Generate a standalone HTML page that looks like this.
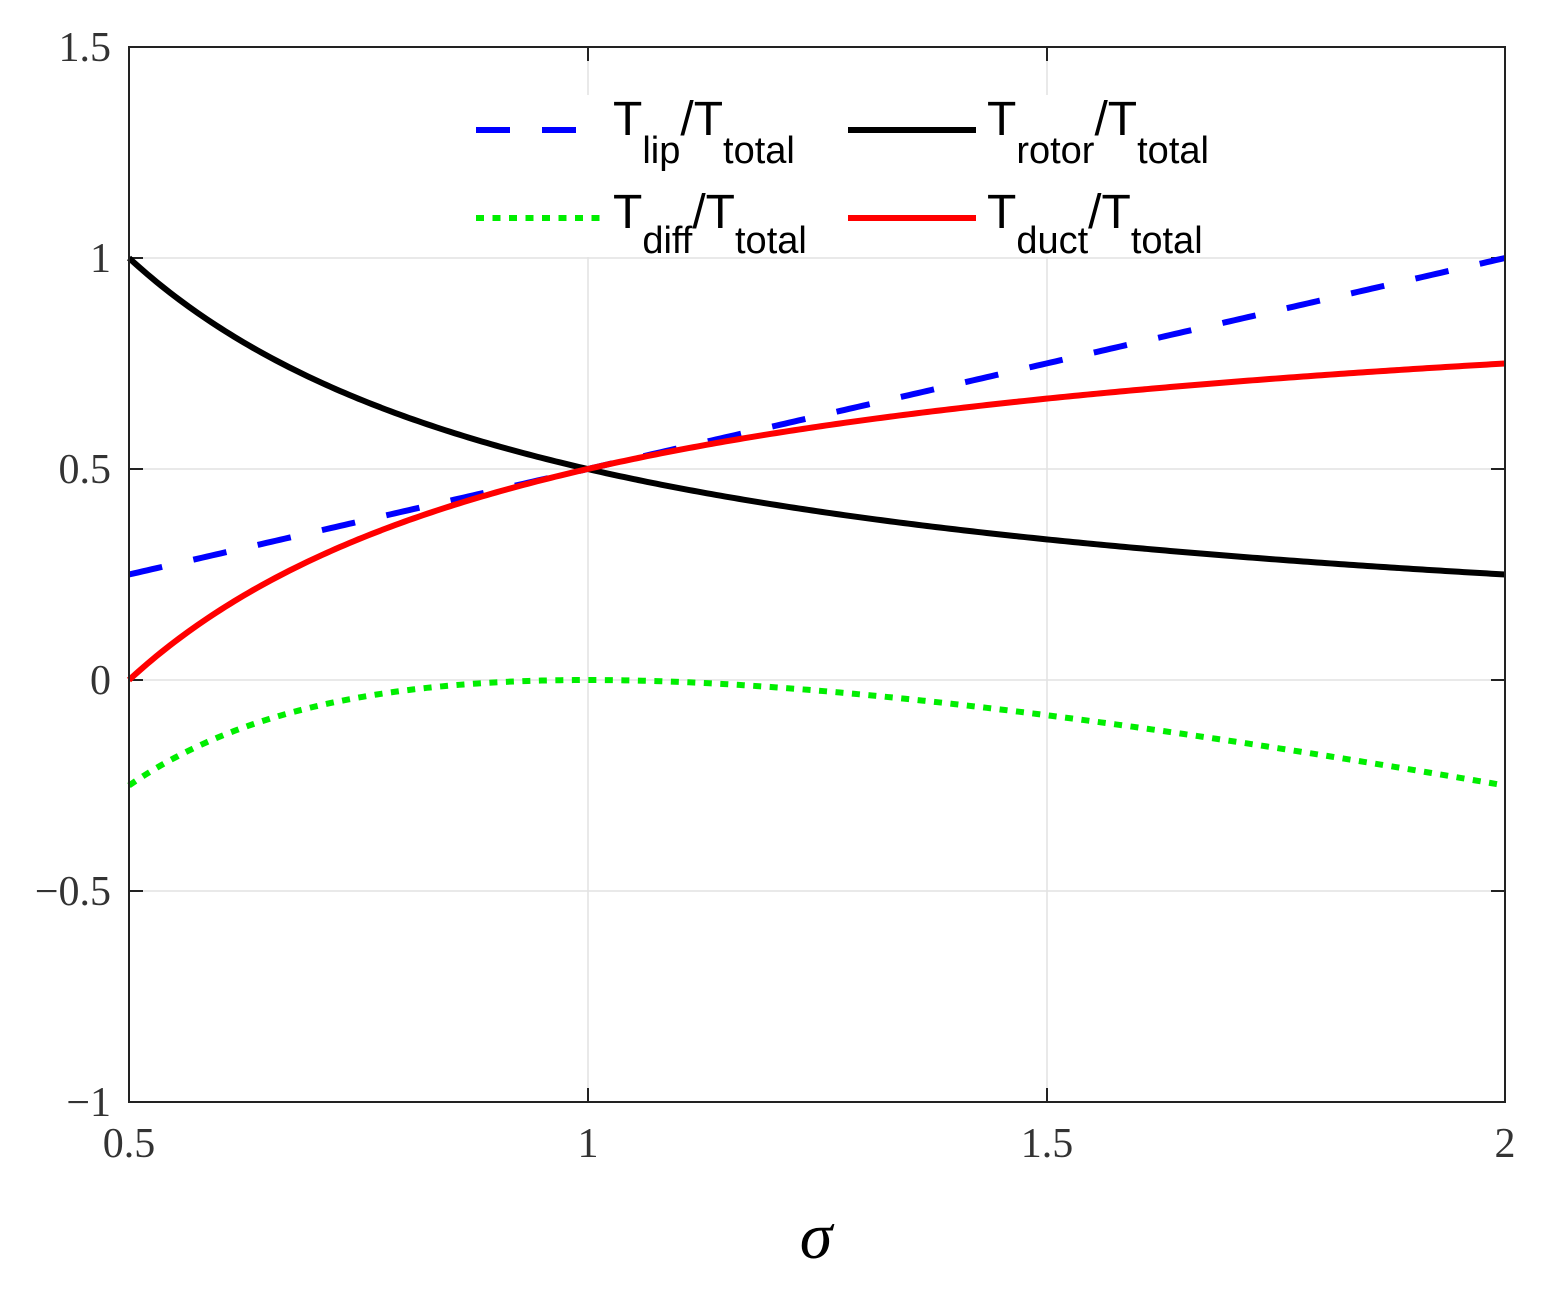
<!DOCTYPE html>
<html><head><meta charset="utf-8"><style>html,body{margin:0;padding:0;background:#fff}svg{display:block}</style></head>
<body>
<svg id="s" width="1552" height="1290" viewBox="0 0 1552 1290" xmlns="http://www.w3.org/2000/svg">
<rect width="1552" height="1290" fill="#fff"/>
<g stroke="#e2e2e2" stroke-width="1.5">
<line x1="588" y1="47" x2="588" y2="1102"/><line x1="1047" y1="47" x2="1047" y2="1102"/>
<line x1="129" y1="258" x2="1505" y2="258"/><line x1="129" y1="469" x2="1505" y2="469"/>
<line x1="129" y1="680" x2="1505" y2="680"/><line x1="129" y1="891" x2="1505" y2="891"/>
</g>
<g stroke="#222" stroke-width="2">
<line x1="588" y1="1102" x2="588" y2="1088"/><line x1="1047" y1="1102" x2="1047" y2="1088"/>
<line x1="588" y1="47" x2="588" y2="61"/><line x1="1047" y1="47" x2="1047" y2="61"/>
<line x1="129" y1="258" x2="143" y2="258"/><line x1="129" y1="469" x2="143" y2="469"/><line x1="129" y1="680" x2="143" y2="680"/><line x1="129" y1="891" x2="143" y2="891"/>
<line x1="1505" y1="258" x2="1491" y2="258"/><line x1="1505" y1="469" x2="1491" y2="469"/><line x1="1505" y1="680" x2="1491" y2="680"/><line x1="1505" y1="891" x2="1491" y2="891"/>
</g>
<g id="curves" fill="none" stroke-width="6"></g>
<rect x="129" y="47" width="1376" height="1055" fill="none" stroke="#222" stroke-width="2"/>
<rect x="463" y="95" width="775" height="162" fill="#fff"/>
<g stroke-width="6">
<line x1="476" y1="130" x2="577" y2="130" stroke="#0000ff" stroke-dasharray="34,32"/>
<line x1="848" y1="130" x2="976" y2="130" stroke="#000"/>
<line x1="476" y1="218" x2="604" y2="218" stroke="#00ee00" stroke-dasharray="8,8.5"/>
<line x1="848" y1="218" x2="976" y2="218" stroke="#ff0000"/>
</g>
<g font-family="Liberation Sans, sans-serif" fill="#000">
<text x="613" y="135" font-size="48">T<tspan font-size="38" dy="28">lip</tspan><tspan dy="-28">/T</tspan><tspan font-size="38" dy="28">total</tspan></text>
<text x="987" y="135" font-size="48">T<tspan font-size="38" dy="28">rotor</tspan><tspan dy="-28">/T</tspan><tspan font-size="38" dy="28">total</tspan></text>
<text x="613" y="228" font-size="48">T<tspan font-size="38" dy="25">diff</tspan><tspan dy="-25">/T</tspan><tspan font-size="38" dy="25">total</tspan></text>
<text x="987" y="228" font-size="48">T<tspan font-size="38" dy="25">duct</tspan><tspan dy="-25">/T</tspan><tspan font-size="38" dy="25">total</tspan></text>
</g>
<g font-family="Liberation Serif, serif" font-size="42" fill="#333" text-anchor="end">
<text x="111" y="61">1.5</text><text x="111" y="272">1</text><text x="111" y="483">0.5</text>
<text x="111" y="694">0</text><text x="111" y="905">−0.5</text><text x="111" y="1116">−1</text>
</g>
<g font-family="Liberation Serif, serif" font-size="42" fill="#333" text-anchor="middle">
<text x="129" y="1157">0.5</text><text x="588" y="1157">1</text><text x="1047" y="1157">1.5</text><text x="1505" y="1157">2</text>
</g>
<text x="816" y="1258" font-family="Liberation Serif, serif" font-style="italic" font-size="66" text-anchor="middle" fill="#000">σ</text>
<script>
(function(){
var X=function(s){return 129+(s-0.5)*1376/1.5},Y=function(v){return 680-v*422};
var fs=[[function(s){return s/2},"#0000ff","34,32"],[function(s){return 1/(2*s)},"#000",""],
[function(s){return 1-1/(2*s)-s/2},"#00ee00","8,8.5"],[function(s){return 1-1/(2*s)},"#ff0000",""]];
var g=document.getElementById("curves");
fs.forEach(function(f){var d="";for(var i=0;i<=300;i++){var s=0.5+1.5*i/300;d+=(i?"L":"M")+X(s).toFixed(2)+","+Y(f[0](s)).toFixed(2);}
var p=document.createElementNS("http://www.w3.org/2000/svg","path");p.setAttribute("d",d);p.setAttribute("stroke",f[1]);if(f[2])p.setAttribute("stroke-dasharray",f[2]);g.appendChild(p);});
})();
</script>
</svg>
</body></html>
